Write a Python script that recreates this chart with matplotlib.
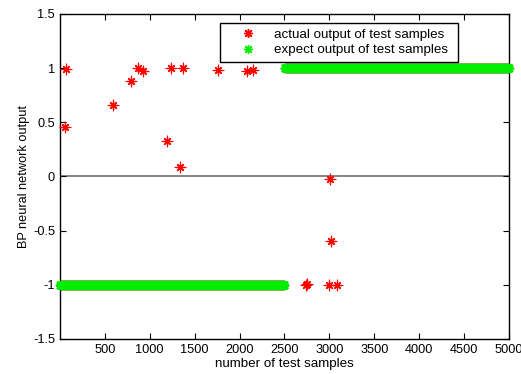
import numpy as np
import matplotlib
matplotlib.use("Agg")
import matplotlib.pyplot as plt

plt.rcParams['font.family'] = ['Liberation Sans', 'DejaVu Sans']

# expected output: class -1 for the first half, +1 for the second half
n_samples = 5000
expect_levels = [-1, 1]
expect_counts = [2500, 2500]

# network output differs from the expected value only at these samples
wrong_idx = [55, 63, 587, 790, 872, 920, 1195, 1240, 1336, 1373, 1760, 2078, 2153,
             2742, 2752, 2992, 3003, 3014, 3088]
wrong_val = [0.46, 0.99, 0.66, 0.88, 1.00, 0.97, 0.33, 1.00, 0.09, 1.00, 0.98, 0.97, 0.98,
             -1.00, -0.99, -1.00, -0.02, -0.60, -1.00]

xticks = [500, 1000, 1500, 2000, 2500, 3000, 3500, 4000, 4500, 5000]
yticks = [-1.5, -1, -0.5, 0, 0.5, 1, 1.5]
ytick_labels = ['-1.5', '-1', '-0.5', '0', '0.5', '1', '1.5']

x = np.arange(1, n_samples + 1)
expect = np.concatenate([np.full(c, v, dtype=float) for v, c in zip(expect_levels, expect_counts)])
actual = expect.copy()
actual[np.array(wrong_idx) - 1] = wrong_val

fig = plt.figure(figsize=(5.21, 3.74), dpi=100)
ax = fig.add_axes([0.115, 0.094, 0.862, 0.869])

star = (8, 2, 0)
ms, mew = 6.5, 0.8
ax.axhline(0, color='#707070', lw=1.2, zorder=1)
ax.plot(x, actual, ls='none', marker=star, ms=ms, mew=mew, color='#ff0000',
        label='actual output of test samples', clip_on=False, zorder=2)
ax.plot(x, expect, ls='none', marker=star, ms=ms, mew=1.2, color='#00ee00',
        label='expect output of test samples', clip_on=False, zorder=3)
# redraw the visible wrong ones on top so they are not hidden
ax.plot(wrong_idx, wrong_val, ls='none', marker=star, ms=ms, mew=mew, color='#ff0000',
        clip_on=False, zorder=4)
ax.plot(wrong_idx, wrong_val, ls='none', marker='+', ms=ms + 2, mew=mew, color='#ff0000',
        clip_on=False, zorder=4)

ax.set_xlim(0, 5000)
ax.set_ylim(-1.5, 1.5)
ax.set_xticks(xticks)
ax.set_yticks(yticks)
ax.set_yticklabels(ytick_labels)
ax.tick_params(direction='in', top=True, right=True, labelsize=9.2, length=4, width=0.8)
for s in ax.spines.values():
    s.set_linewidth(1.0)

ax.set_xlabel('number of test samples', fontsize=9.6, labelpad=2)
ax.set_ylabel('BP neural network output', fontsize=9.2, labelpad=2)

leg = ax.legend(loc='upper left', bbox_to_anchor=(0.356, 0.852, 0.53, 0.12), mode='expand',
                borderaxespad=0, fontsize=9.6, fancybox=False, edgecolor='black',
                framealpha=1, handlelength=3.5, handletextpad=0.15, borderpad=0.4,
                labelspacing=0.25)
leg.get_frame().set_linewidth(1.0)
for h in leg.legend_handles:
    h.set_markeredgewidth(1.0)

fig.savefig('out.png', dpi=100)
